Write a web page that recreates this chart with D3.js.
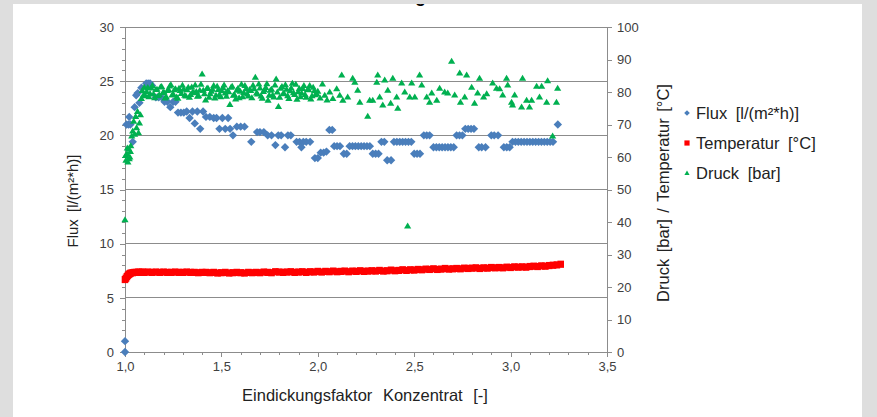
<!DOCTYPE html>
<html>
<head>
<meta charset="utf-8">
<script src="https://cdn.jsdelivr.net/npm/d3@7"></script>
<style>
  body { margin: 0; background: #dedede; }
  svg { display: block; font-family: "Liberation Sans", Arial, sans-serif; }
</style>
</head>
<body>
<svg id="chart" width="877" height="417"></svg>
<script>
// ---------------- DATA ----------------
const title = "Aufkonzentrierung";
const xTicks = [1.0, 1.5, 2.0, 2.5, 3.0, 3.5];
const yLeftTicks = [0, 5, 10, 15, 20, 25, 30];
const yRightTicks = [0, 10, 20, 30, 40, 50, 60, 70, 80, 90, 100];
const seriesNames = ["Flux [l/(m²*h)]", "Temperatur [°C]", "Druck [bar]"];

// Flux [l/(m²*h)] (left axis)
const fluxX = [1.000,1.000,1.008,1.018,1.022,1.028,1.040,1.050,1.058,1.066,1.075,1.085,1.110,1.120,1.130,1.140,
  1.160,1.175,1.190,1.205,1.220,1.235,1.250,1.262,1.275,1.290,1.305,1.320,1.335,1.350,1.362,1.375,1.390,1.405,
  1.420,1.440,1.460,1.475,1.490,1.505,1.520,1.535,1.545,1.560,1.580,1.600,1.620,1.655,1.685,1.700,1.720,1.740,
  1.760,1.780,1.795,1.810,1.830,1.845,1.860,1.890,1.905,1.915,1.925,1.940,1.960,1.985,2.000,2.015,2.030,2.045,
  2.060,2.075,2.085,2.100,2.115,2.135,2.150,2.165,2.180,2.195,2.210,2.225,2.240,2.255,2.270,2.285,2.300,2.315,
  2.330,2.345,2.360,2.380,2.395,2.410,2.425,2.440,2.455,2.470,2.485,2.500,2.515,2.530,2.550,2.565,2.580,2.600,
  2.615,2.630,2.645,2.660,2.675,2.690,2.705,2.720,2.735,2.750,2.765,2.780,2.795,2.810,2.835,2.850,2.870,2.900,
  2.915,2.935,2.965,2.980,2.995,3.010,3.025,3.040,3.055,3.070,3.085,3.100,3.115,3.130,3.145,3.160,3.175,3.190,
  3.205,3.220,3.245];
const fluxY = [0.0,1.0,21.0,21.0,21.7,21.0,19.4,22.6,23.7,23.9,23.0,24.4,24.8,24.8,24.8,24.6,
  23.5,23.5,23.5,23.1,23.1,22.6,23.1,23.1,22.1,22.1,22.1,22.2,21.6,22.2,21.1,22.2,20.6,22.2,
  21.7,21.7,21.6,21.6,20.6,21.6,20.6,21.6,20.6,20.0,20.8,20.8,20.8,19.4,20.3,20.3,20.3,20.0,
  20.0,19.1,20.0,20.0,18.9,20.0,20.0,19.4,19.4,18.9,19.4,19.4,19.4,17.9,17.9,18.4,18.4,18.5,
  20.5,20.5,19.0,19.0,19.0,18.3,18.3,19.0,19.0,19.0,19.0,19.0,19.0,19.0,19.0,18.3,18.3,18.3,
  19.4,19.4,17.7,17.7,19.4,19.4,19.4,19.4,19.4,19.4,19.4,18.3,18.3,18.3,20.0,20.0,20.0,18.9,
  18.9,18.9,18.9,18.9,18.9,18.9,18.9,20.0,20.0,20.0,20.6,20.6,20.6,20.6,18.9,18.9,18.9,20.0,
  20.0,20.0,18.9,18.9,18.9,19.4,19.4,19.4,19.4,19.4,19.4,19.4,19.4,19.4,19.4,19.4,19.4,19.4,
  19.4,19.4,21.0];

// Temperatur [°C] (right axis)
const tempX = [1.000,1.005,1.010,1.015,1.020,1.025,1.030,1.040,1.050,1.060,1.070,1.080,1.090,1.100,1.120,1.140,
  1.160,1.180,1.200,1.220,1.240,1.260,1.280,1.300,1.320,1.340,1.360,1.380,1.400,1.420,1.440,1.460,1.480,1.500,
  1.520,1.540,1.560,1.580,1.600,1.620,1.640,1.660,1.680,1.700,1.720,1.740,1.760,1.780,1.800,1.820,1.840,1.860,
  1.880,1.900,1.920,1.940,1.960,1.980,2.000,2.020,2.040,2.060,2.080,2.100,2.120,2.140,2.160,2.180,2.200,2.220,
  2.240,2.260,2.280,2.300,2.320,2.340,2.360,2.380,2.400,2.420,2.440,2.460,2.480,2.500,2.520,2.540,2.560,2.580,
  2.600,2.620,2.640,2.660,2.680,2.700,2.720,2.740,2.760,2.780,2.800,2.820,2.840,2.860,2.880,2.900,2.920,2.940,
  2.960,2.980,3.000,3.020,3.040,3.060,3.080,3.100,3.120,3.140,3.160,3.180,3.200,3.220,3.240,3.260];
const tempY = [22.3,22.7,23.2,23.6,23.9,24.1,24.3,24.4,24.5,24.5,24.6,24.5,24.6,24.5,24.6,24.5,
  24.6,24.5,24.6,24.5,24.5,24.6,24.5,24.5,24.6,24.5,24.5,24.4,24.5,24.5,24.4,24.5,24.3,24.4,
  24.5,24.3,24.4,24.5,24.4,24.3,24.5,24.4,24.5,24.4,24.6,24.5,24.4,24.7,24.6,24.5,24.6,24.7,
  24.5,24.6,24.7,24.5,24.7,24.6,24.8,24.6,24.8,24.7,24.9,24.7,24.8,24.9,24.7,24.9,24.8,25.0,
  24.8,24.9,25.0,24.9,25.1,24.9,25.0,25.2,25.0,25.1,25.3,25.1,25.3,25.2,25.4,25.3,25.5,25.4,
  25.6,25.4,25.5,25.7,25.5,25.6,25.7,25.6,25.8,25.7,25.8,25.9,25.7,25.9,25.8,26.0,25.9,26.0,
  25.9,26.1,26.0,26.2,26.1,26.2,26.1,26.3,26.4,26.3,26.5,26.4,26.6,26.7,26.8,27.0];

// Druck [bar] (right axis)
const druckX = [1.000,1.005,1.010,1.015,1.020,1.025,1.030,1.035,1.040,1.045,1.050,1.055,1.060,1.065,1.070,1.075,
  1.080,1.085,1.090,1.095,1.100,1.112,1.124,1.136,1.148,1.160,1.172,1.184,1.196,1.208,1.220,1.232,1.244,1.256,
  1.268,1.280,1.292,1.304,1.316,1.328,1.340,1.352,1.364,1.376,1.388,1.400,1.412,1.424,1.436,1.448,1.460,1.472,
  1.484,1.496,1.508,1.520,1.532,1.544,1.556,1.568,1.580,1.592,1.604,1.616,1.628,1.640,1.652,1.664,1.676,1.688,
  1.700,1.712,1.724,1.736,1.748,1.760,1.772,1.784,1.796,1.808,1.820,1.832,1.844,1.856,1.868,1.880,1.892,1.904,
  1.916,1.928,1.940,1.952,1.964,1.976,1.988,2.000,2.012,2.024,2.036,2.048,2.062,2.078,2.098,2.114,2.124,2.130,
  2.155,2.181,2.192,2.207,2.218,2.259,2.269,2.285,2.306,2.311,2.321,2.337,2.347,2.363,2.378,2.389,2.409,2.415,
  2.435,2.451,2.466,2.477,2.487,2.503,2.528,2.539,2.565,2.580,2.591,2.617,2.632,2.658,2.674,2.694,2.710,2.736,
  2.740,2.762,2.772,2.798,2.813,2.829,2.839,2.860,2.876,2.907,2.927,2.943,2.959,2.979,2.985,3.005,3.010,3.021,
  3.057,3.062,3.083,3.098,3.109,3.135,3.150,3.161,3.187,3.192,3.218,3.238,3.244,
  1.003,1.012,1.022,1.028,1.106,1.118,1.130,1.142,1.154,1.166,1.178,1.190,1.202,1.214,1.226,1.238,1.250,1.262,
  1.274,1.286,1.298,1.310,1.322,1.334,1.346,1.358,1.370,1.382,1.394,1.406,1.418,1.430,1.442,1.454,1.466,1.478,
  1.490,1.502,1.514,1.526,1.538,1.550,1.562,1.574,1.586,1.598,1.610,1.622,1.634,1.646,1.658,1.670,1.682,1.694,
  1.706,1.718,1.730,1.742,1.754,1.766,1.778,1.790,1.802,1.814,1.826,1.838,1.850,1.862,1.874,1.886,1.898,1.910,
  1.922,1.934,1.946,1.958,1.970,1.982,1.994];
const druckY = [40.7,59.0,61.0,58.5,62.5,60.0,63.5,66.5,68.0,71.0,67.0,72.5,69.0,74.0,67.5,70.5,
  73.0,78.0,80.5,79.0,81.5,80.2,78.6,81.3,79.4,80.8,78.9,81.6,79.8,78.2,80.5,81.9,79.1,80.7,
  78.5,81.2,79.6,80.9,78.8,81.5,79.3,80.1,82.2,78.7,80.6,85.6,79.5,81.1,78.4,80.3,82.0,79.0,
  80.8,78.6,81.4,79.7,80.4,76.2,81.8,79.2,80.6,78.3,82.4,79.9,81.0,78.8,80.5,82.1,84.6,79.4,
  81.3,78.1,80.7,82.6,79.0,80.9,78.5,84.0,75.6,81.2,79.6,82.3,78.9,80.4,82.7,79.3,77.8,81.1,
  79.7,82.0,78.4,80.8,77.9,81.5,79.2,80.3,78.2,82.5,79.0,77.6,80.0,78.0,81.0,79.0,85.3,77.5,
  78.5,84.3,83.0,80.6,76.9,72.6,77.5,77.5,83.0,85.3,78.5,76.0,83.7,80.6,76.6,84.3,78.5,75.0,
  82.8,80.0,38.8,78.5,82.8,78.5,85.3,82.2,78.5,76.9,79.7,77.5,81.2,80.0,79.7,89.5,79.1,85.9,
  76.9,78.5,85.3,81.5,76.6,79.7,84.3,78.5,79.5,82.8,81.2,81.0,79.1,84.3,82.2,76.9,76.0,79.1,
  75.4,84.3,77.5,75.4,77.5,81.8,78.5,81.8,76.9,83.5,66.5,76.9,81.2,
  60.5,62.8,59.5,61.7,78.9,81.4,79.6,82.0,78.3,80.9,79.2,81.7,80.0,78.6,80.8,82.3,79.4,81.0,
  78.1,80.5,82.1,79.0,80.7,78.4,81.6,79.8,80.2,78.9,82.4,80.6,77.6,81.3,79.5,80.9,78.2,81.8,
  79.3,80.4,82.2,78.7,80.1,81.5,79.0,77.9,81.2,80.3,78.6,82.0,79.4,80.8,78.3,81.0,79.7,82.5,
  78.8,80.2,81.4,77.5,80.6,79.1,82.2,80.0,78.4,81.7,79.5,80.9,78.0,81.3,79.8,82.4,80.1,78.6,
  81.1,79.3,80.7,82.0,78.9,80.4,79.6];

// ---------------- CHART ----------------
const svg = d3.select("#chart");
const W = 877, H = 417;
const colors = { flux: "#4A7EBB", temp: "#FF0000", druck: "#00B050" };

// background + panel
svg.append("rect").attr("width", W).attr("height", H).attr("fill", "#dedede");
svg.append("defs").append("clipPath").attr("id", "panelClip")
  .append("rect").attr("x", 13).attr("y", 4).attr("width", 849).attr("height", H - 4);
svg.append("rect").attr("x", 13).attr("y", 4).attr("width", 849).attr("height", H - 4).attr("fill", "#fff");

const x = d3.scaleLinear().domain([1, 3.5]).range([125, 607]);
const yL = d3.scaleLinear().domain([0, 30]).range([352, 27]);
const yR = d3.scaleLinear().domain([0, 100]).range([352, 27]);

// clipped title (only descender visible, as in reference)
svg.append("g").attr("clip-path", "url(#panelClip)")
  .append("text").attr("x", 426).attr("y", 2).attr("text-anchor", "end")
  .attr("font-size", 18).attr("font-weight", "bold").attr("fill", "#000").text(title);

// gridlines
svg.append("g").selectAll("line").data(yLeftTicks.filter(d => d > 0)).join("line")
  .attr("x1", x(1)).attr("x2", x(3.5)).attr("y1", d => yL(d)).attr("y2", d => yL(d))
  .attr("stroke", "#8c8c8c").attr("stroke-width", 1).attr("shape-rendering", "crispEdges");

const tickColor = "#8c8c8c";
const labelColor = "#404040";

// Left axis
const gL = svg.append("g").attr("transform", `translate(${x(1)},0)`)
  .call(d3.axisLeft(yL).tickValues(yLeftTicks).tickSize(5).tickPadding(6).tickFormat(d3.format("d")));
gL.append("g").call(d3.axisLeft(yL).tickValues(d3.range(0, 31, 1)).tickSize(3).tickFormat(""))
  .call(g => g.select(".domain").remove());

// Right axis
const gR = svg.append("g").attr("transform", `translate(${x(3.5)},0)`)
  .call(d3.axisRight(yR).tickValues(yRightTicks).tickSize(5).tickPadding(5).tickFormat(d3.format("d")));

// Bottom axis
const comma = d => d3.format(".1f")(d).replace(".", ",");
const gB = svg.append("g").attr("transform", `translate(0,${yL(0)})`)
  .call(d3.axisBottom(x).tickValues(xTicks).tickSize(5).tickPadding(5).tickFormat(comma));
gB.append("g").call(d3.axisBottom(x).tickValues(d3.range(10, 36, 1).map(d => d / 10)).tickSize(3).tickFormat(""))
  .call(g => g.select(".domain").remove());

[gL, gR, gB].forEach(g => {
  g.selectAll("path.domain").attr("stroke", tickColor).attr("shape-rendering", "crispEdges");
  g.selectAll("line").attr("stroke", tickColor).attr("shape-rendering", "crispEdges");
  g.selectAll("text").attr("fill", labelColor).attr("font-size", 13)
    .attr("font-family", "'Liberation Sans', Arial, sans-serif");
});

// Axis titles
svg.append("text").attr("transform", `translate(78,201) rotate(-90)`)
  .attr("text-anchor", "middle").attr("font-size", 15).attr("fill", "#222")
  .attr("word-spacing", 3).text("Flux [l/(m²*h)]");
svg.append("text").attr("transform", `translate(669,193) rotate(-90)`)
  .attr("text-anchor", "middle").attr("font-size", 16.5).attr("fill", "#222")
  .attr("word-spacing", 2).text("Druck [bar] / Temperatur [°C]");
svg.append("text").attr("x", 365).attr("y", 401)
  .attr("text-anchor", "middle").attr("font-size", 16.5).attr("fill", "#222")
  .attr("word-spacing", 6).text("Eindickungsfaktor Konzentrat [-]");

// Marker shapes
const diamond = "M0,-4.2L4.2,0L0,4.2L-4.2,0Z";
const square = "M-3.3,-3.6H3.3V3.6H-3.3Z";
const triangle = "M0,-3.4L3.6,2.6L-3.6,2.6Z";

const fluxData = fluxX.map((d, i) => [d, fluxY[i]]);
const tempData = tempX.map((d, i) => [d, tempY[i]]);
const druckData = druckX.map((d, i) => [d, druckY[i]]);

svg.append("g").selectAll("path").data(fluxData).join("path")
  .attr("d", diamond).attr("transform", d => `translate(${x(d[0])},${yL(d[1])})`)
  .attr("fill", colors.flux);
svg.append("g").selectAll("path").data(tempData).join("path")
  .attr("d", square).attr("transform", d => `translate(${x(d[0])},${yR(d[1])})`)
  .attr("fill", colors.temp);
svg.append("g").selectAll("path").data(druckData).join("path")
  .attr("d", triangle).attr("transform", d => `translate(${x(d[0])},${yR(d[1])})`)
  .attr("fill", colors.druck);

// Legend
const legend = svg.append("g").attr("transform", "translate(687,113)");
const legendShapes = [
  { name: seriesNames[0], color: colors.flux, d: "M0,-2.8L2.8,0L0,2.8L-2.8,0Z" },
  { name: seriesNames[1], color: colors.temp, d: "M-2.6,-2.6H2.6V2.6H-2.6Z" },
  { name: seriesNames[2], color: colors.druck, d: "M0,-2.5L2.6,1.9L-2.6,1.9Z" }
];
const li = legend.selectAll("g").data(legendShapes).join("g")
  .attr("transform", (d, i) => `translate(0,${i * 30})`);
li.append("path").attr("d", d => d.d).attr("fill", d => d.color);
li.append("text").attr("x", 9).attr("y", 6).attr("font-size", 16.5).attr("fill", "#222")
  .attr("word-spacing", 4).text(d => d.name);
</script>
</body>
</html>
